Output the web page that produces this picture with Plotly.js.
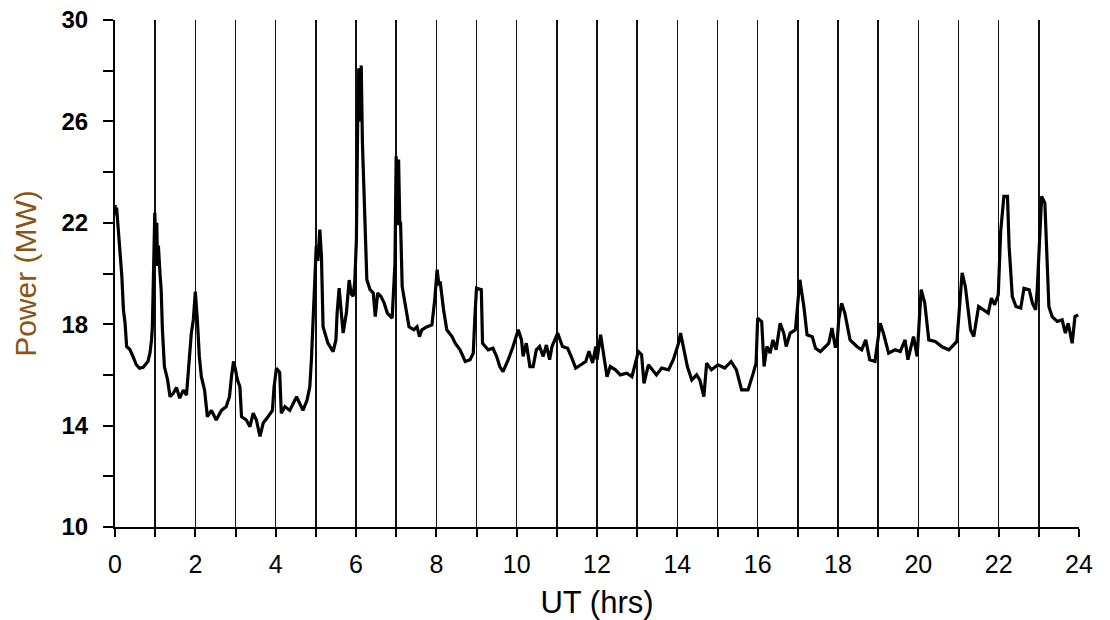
<!DOCTYPE html>
<html>
<head>
<meta charset="utf-8">
<script src="https://cdn.plot.ly/plotly-3.0.1.min.js"></script>
<style>html,body{margin:0;padding:0;background:#fff;}#chart{width:1110px;height:620px;}</style>
</head>
<body>
<div id="chart"></div>
<script>
// UT hours
const ut = [
0.00,0.02,0.04,0.08,0.12,0.17,0.21,0.25,0.29,0.37,0.45,0.53,0.61,0.70,0.82,0.87,0.91,0.93,0.96,0.99,
1.02,1.04,1.06,1.08,1.12,1.15,1.18,1.23,1.31,1.37,1.45,1.53,1.61,1.70,1.78,1.82,1.86,1.90,1.95,
2.00,2.05,2.10,2.15,2.23,2.30,2.40,2.52,2.65,2.77,2.85,2.90,2.95,
3.00,3.05,3.11,3.15,3.27,3.36,3.44,3.52,3.61,3.69,3.81,3.92,3.96,
4.02,4.10,4.14,4.23,4.35,4.52,4.60,4.68,4.78,4.85,4.89,4.95,
5.01,5.05,5.10,5.14,5.16,5.18,5.30,5.43,5.50,5.53,5.58,5.64,5.68,5.76,5.79,5.83,5.88,5.93,5.97,
6.01,6.04,6.07,6.10,6.13,6.16,6.22,6.24,6.27,6.35,6.43,6.48,6.54,6.62,6.70,6.78,6.90,6.97,
7.00,7.03,7.06,7.09,7.11,7.15,7.23,7.32,7.44,7.52,7.58,7.64,7.77,7.89,7.96,
8.02,8.06,8.10,8.18,8.26,8.39,8.47,8.59,8.72,8.84,8.92,8.96,
9.00,9.12,9.15,9.29,9.41,9.50,9.58,9.66,9.79,9.91,
10.04,10.12,10.16,10.24,10.33,10.41,10.49,10.57,10.66,10.74,10.82,10.88,
11.02,11.14,11.27,11.39,11.47,11.60,11.72,11.80,11.89,11.97,
12.00,12.09,12.15,12.25,12.33,12.46,12.58,12.74,12.87,12.95,
13.03,13.11,13.17,13.28,13.40,13.48,13.61,13.78,13.90,
14.03,14.08,14.17,14.25,14.36,14.48,14.56,14.66,14.73,14.85,
15.01,15.18,15.34,15.47,15.60,15.76,15.89,15.96,
16.00,16.10,16.16,16.23,16.31,16.38,16.46,16.56,16.65,16.71,16.81,16.94,
17.05,17.15,17.23,17.36,17.44,17.56,17.69,17.77,17.85,17.93,17.97,
18.02,18.09,18.17,18.30,18.47,18.59,18.69,18.79,18.92,
19.05,19.13,19.26,19.42,19.55,19.67,19.74,19.88,19.97,
20.07,20.16,20.26,20.42,20.60,20.76,20.96,
21.09,21.17,21.30,21.38,21.50,21.63,21.74,21.82,21.90,21.99,
22.02,22.05,22.13,22.22,22.26,22.34,22.43,22.55,22.63,22.76,22.84,22.92,22.96,
23.02,23.07,23.15,23.21,23.25,23.33,23.46,23.58,23.66,23.73,23.83,23.90,23.98
];
// Power (MW)
const power = [
22.7,22.3,22.6,21.85,21.07,19.9,18.57,18.05,17.12,17.0,16.72,16.4,16.26,16.3,16.53,16.86,17.38,17.9,20.1,22.4,
21.0,22.0,20.3,21.1,20.0,19.35,17.8,16.33,15.8,15.14,15.27,15.5,15.08,15.4,15.2,15.93,16.72,17.65,18.17,
19.29,18.17,16.72,15.93,15.4,14.35,14.6,14.22,14.6,14.75,15.14,15.93,16.53,
16.2,15.8,15.53,14.35,14.22,13.96,14.49,14.22,13.57,14.1,14.35,14.6,15.53,
16.26,16.1,14.49,14.75,14.6,15.14,14.9,14.6,15.0,15.53,16.6,18.57,
21.07,20.5,21.73,20.67,19.74,17.9,17.25,16.92,17.38,18.44,19.42,18.3,17.65,18.44,18.97,19.74,19.2,19.1,19.7,
21.33,25.8,28.1,26.0,28.2,25.15,22.12,20.94,19.75,19.36,19.23,18.3,19.23,19.1,18.84,18.44,18.24,20.4,
24.62,21.9,24.5,22.0,21.99,19.48,18.7,17.9,17.78,17.9,17.51,17.78,17.9,17.97,18.96,
20.15,19.6,19.62,18.57,17.78,17.51,17.25,16.99,16.53,16.6,16.86,18.3,
19.42,19.36,17.25,16.99,17.05,16.73,16.33,16.13,16.6,17.12,
17.78,17.38,16.73,17.25,16.33,16.33,16.99,17.12,16.73,17.18,16.6,17.12,
17.65,17.12,17.05,16.6,16.27,16.4,16.53,16.93,16.47,17.12,
16.6,17.58,16.99,15.93,16.33,16.2,16.0,16.07,15.93,16.46,
16.92,16.8,15.67,16.4,16.13,16.0,16.27,16.2,16.6,
17.25,17.65,16.99,16.33,15.8,16.0,15.8,15.14,16.46,16.2,
16.4,16.27,16.53,16.2,15.41,15.41,16.07,16.46,
18.24,18.1,16.33,17.12,16.86,17.38,16.99,18.04,17.65,17.12,17.65,17.78,
19.75,18.7,17.58,17.51,17.05,16.92,17.12,17.25,17.85,17.12,17.12,
18.2,18.83,18.44,17.38,17.12,16.99,17.38,16.6,16.53,
18.04,17.65,16.86,16.99,16.92,17.38,16.6,17.51,16.73,
19.36,18.83,17.38,17.32,17.1,16.99,17.32,
20.02,19.49,17.78,17.51,18.7,18.57,18.44,19.03,18.77,19.16,
20.41,21.66,23.04,23.04,21.07,19.09,18.7,18.64,19.42,19.36,18.83,18.57,19.36,
21.13,23.04,22.78,20.6,18.7,18.3,18.11,18.17,17.65,18.04,17.25,18.3,18.37
];
const xTickVals = [0,1,2,3,4,5,6,7,8,9,10,11,12,13,14,15,16,17,18,19,20,21,22,23,24];
const xTickText = ['0','','2','','4','','6','','8','','10','','12','','14','','16','','18','','20','','22','','24'];
const yTickVals = [10,12,14,16,18,20,22,24,26,28,30];
const yTickText = ['10','','14','','18','','22','','26','','30'];

const trace = {
  x: ut, y: power, type: 'scatter', mode: 'lines',
  line: {color: '#000', width: 3.2, shape: 'linear'},
  hoverinfo: 'skip'
};

const layout = {
  width: 1110, height: 620,
  margin: {l: 115, r: 31, t: 20, b: 93, pad: 0},
  paper_bgcolor: '#fff', plot_bgcolor: '#fff',
  showlegend: false,
  xaxis: {
    range: [0, 24], tickmode: 'array', tickvals: xTickVals, ticktext: xTickText,
    ticks: 'outside', ticklen: 8, tickwidth: 2, tickcolor: '#000',
    showline: true, linecolor: '#000', linewidth: 2,
    showgrid: true, gridcolor: '#111', gridwidth: 1.6, zeroline: false,
    tickfont: {family: 'Liberation Sans, Arial, sans-serif', size: 25, color: '#000'},
    ticklabelstandoff: 6,
    title: {text: 'UT (hrs)', font: {family: 'Liberation Sans, Arial, sans-serif', size: 31, color: '#000'}, standoff: 14}
  },
  yaxis: {
    range: [10, 30], tickmode: 'array', tickvals: yTickVals, ticktext: yTickText,
    ticks: 'outside', ticklen: 10, tickwidth: 2, tickcolor: '#000',
    showline: true, linecolor: '#000', linewidth: 2,
    showgrid: false, zeroline: false,
    tickfont: {family: 'Liberation Sans, Arial, sans-serif', size: 24, color: '#000', weight: 'bold'},
    ticklabelstandoff: 10,
    title: {text: 'Power (MW)', font: {family: 'Liberation Sans, Arial, sans-serif', size: 30, color: '#8a5414'}, standoff: 16}
  }
};

Plotly.newPlot('chart', [trace], layout, {staticPlot: true, displayModeBar: false});
</script>
</body>
</html>
